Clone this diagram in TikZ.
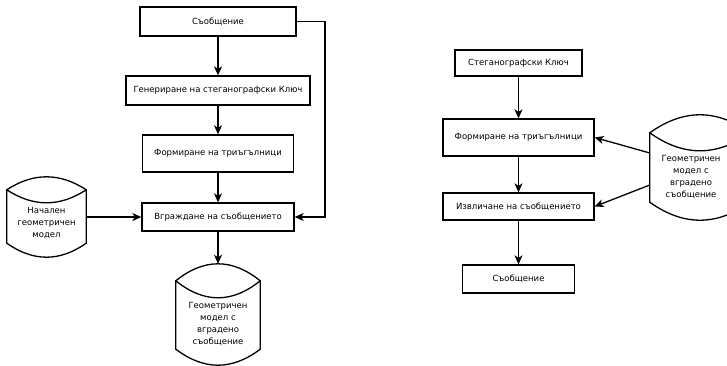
\documentclass[tikz,border=0pt]{standalone}
\usepackage{fontspec}
\setmainfont{DejaVu Sans}
\usetikzlibrary{arrows.meta,calc}
\tikzset{
  box/.style={draw, line width=1.3pt, inner sep=0pt, align=center},
  store/.style={inner sep=0pt, align=center},
  arr/.style={line width=1.3pt, -{Stealth[length=9pt,width=8pt,inset=2.5pt]}},
  outline/.style={line width=1.3pt, line join=miter},
}
% #1 node name, #2 lens depth, #3 bottom bulge, #4 extra width on the right
\newcommand\drawstore[4]{%
  \draw[outline] let \p1=(#1.north west), \p2=(#1.south east),
      \p3=($(#1.south east)+(#4pt,0pt)$) in
    ({\x1},{\y1+#2pt}) -- ({\x1},{\y2})
    .. controls ({\x1+(\x3-\x1)/3},{\y2-4*#3pt/3}) and ({\x3-(\x3-\x1)/3},{\y2-4*#3pt/3}) .. ({\x3},{\y2})
    -- ({\x3},{\y1+#2pt})
    .. controls ({\x3-(\x3-\x1)/3},{\y1+#2pt+4*#2pt/3}) and ({\x1+(\x3-\x1)/3},{\y1+#2pt+4*#2pt/3}) .. ({\x1},{\y1+#2pt})
    .. controls ({\x1+(\x3-\x1)/3},{\y1+#2pt-4*#2pt/3}) and ({\x3-(\x3-\x1)/3},{\y1+#2pt-4*#2pt/3}) .. ({\x3},{\y1+#2pt});
}
\begin{document}
\begin{tikzpicture}[x=1pt,y=-1pt,font=\fontsize{8.5}{12}\selectfont]
\path[use as bounding box] (0,0) rectangle (727,366);

% ---- left diagram ----
\node[box, minimum width=156pt, minimum height=29pt] (m1) at (218,21.5) {Съобщение};
\node[box, minimum width=184pt, minimum height=29pt] (gen) at (218,90.5) {Генериране на стеганографски Ключ};
\node[box, minimum width=151pt, minimum height=37pt] (form1) at (218,153.5) {Формиране на триъгълници};
\node[box, minimum width=152pt, minimum height=28pt] (emb) at (218,217) {Вграждане на съобщението};

\node[store, minimum width=79pt, minimum height=40pt] (c1) at (46.5,223) {Начален\\геометричен\\модел};
\drawstore{c1}{13}{14}{0}
\node[store, minimum width=84pt, minimum height=51pt] (c2) at (218,323.5) {Геометричен\\модел с\\вградено\\съобщение};
\drawstore{c2}{17}{16}{0}

\coordinate (loopx) at (325,0);
\draw[arr] (m1) -- (gen);
\draw[arr] (gen) -- (form1);
\draw[arr] (form1) -- (emb);
\draw[arr] (m1.east) -- (m1.east -| loopx) |- (emb.east);
\draw[arr] ([yshift=6pt]c1.east) -- (emb.west);
\draw[arr] (emb.south) -- ([yshift=34pt]c2.north);

% ---- right diagram ----
\node[box, minimum width=127pt, minimum height=26pt] (key) at (518.5,63) {Стеганографски Ключ};
\node[box, minimum width=151pt, minimum height=37pt] (form2) at (518.5,137.5) {Формиране на триъгълници};
\node[box, minimum width=151pt, minimum height=27pt] (ext) at (518.5,206.5) {Извличане на съобщението};
\node[box, minimum width=112pt, minimum height=28pt] (m2) at (518.5,279) {Съобщение};

\node[store, minimum width=82pt, minimum height=51pt] (c3) at (691,176.5) {Геометричен\\модел с\\вградено\\съобщение};
\drawstore{c3}{18}{18}{18}

\draw[arr] (key) -- (form2);
\draw[arr] (form2) -- (ext);
\draw[arr] (ext) -- (m2);
\draw[arr] ([yshift=23.5pt]c3.west) -- (form2.east);
\draw[arr] ([yshift=-8.5pt]c3.west) -- (ext.east);
\end{tikzpicture}
\end{document}
